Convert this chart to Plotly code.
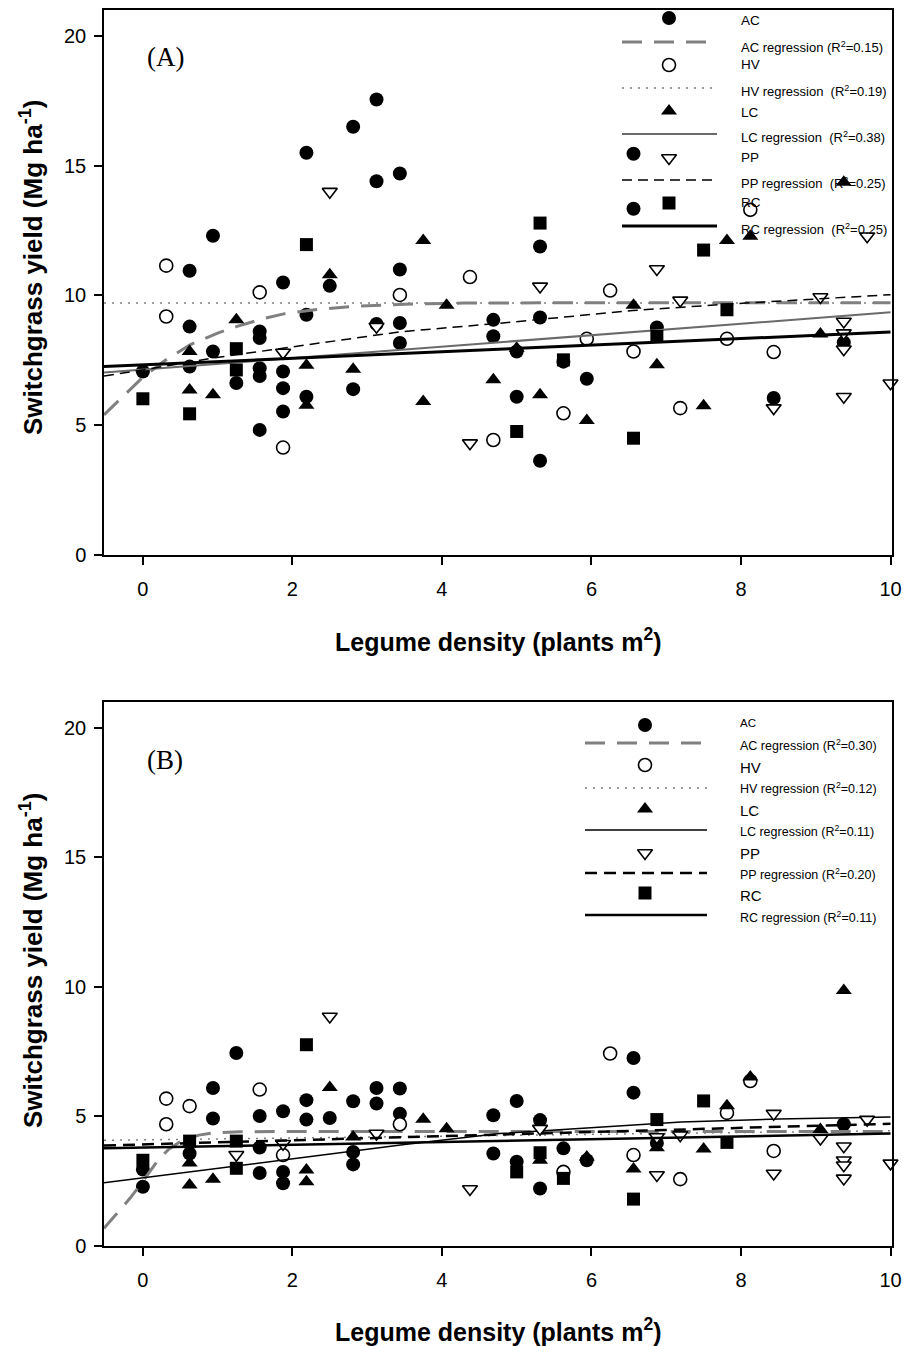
import plotly.graph_objects as go

# ---------------- Panel A data ----------------
A_AC_x = [0, 0.625, 0.625, 0.625, 0.9375, 0.9375, 1.25, 1.5625, 1.5625, 1.5625, 1.5625, 1.5625,
          1.875, 1.875, 1.875, 1.875, 2.1875, 2.1875, 2.1875, 2.5, 2.8125, 2.8125, 3.125, 3.125, 3.125,
          3.4375, 3.4375, 3.4375, 3.4375, 4.6875, 4.6875, 5.0, 5.0, 5.3125, 5.3125, 5.3125, 5.625,
          5.9375, 6.5625, 6.5625, 6.875, 8.4375, 9.375]
A_AC_y = [7.07, 10.95, 8.8, 7.26, 12.3, 7.84, 6.63, 8.61, 8.36, 7.2, 6.9, 4.82,
          10.5, 7.07, 6.43, 5.53, 15.5, 9.26, 6.1, 10.37, 16.5, 6.39, 17.55, 14.4, 8.9,
          14.7, 11.0, 8.94, 8.17, 9.06, 8.43, 7.84, 6.1, 11.89, 9.15, 3.63, 7.45,
          6.79, 15.46, 13.34, 8.77, 6.05, 8.19]

A_HV_x = [0.3125, 0.3125, 1.5625, 1.875, 3.4375, 4.375, 4.6875, 5.625, 5.9375, 6.25, 6.5625,
          7.1875, 7.8125, 8.125, 8.4375]
A_HV_y = [11.15, 9.19, 10.12, 4.14, 10.02, 10.71, 4.43, 5.46, 8.33, 10.19, 7.84,
          5.66, 8.33, 13.3, 7.82]

A_LC_x = [0.625, 0.625, 0.9375, 1.25, 2.1875, 2.1875, 2.5, 2.8125, 3.75, 3.75, 4.0625, 4.6875,
          5.0, 5.3125, 5.9375, 6.5625, 6.875, 7.5, 7.8125, 8.125, 9.0625, 9.375]
A_LC_y = [7.84, 6.36, 6.17, 9.06, 7.31, 5.77, 10.8, 7.16, 12.12, 5.91, 9.62, 6.75,
          7.97, 6.17, 5.18, 9.62, 7.33, 5.75, 12.12, 12.28, 8.52, 14.36]

A_PP_x = [1.875, 2.5, 3.125, 4.375, 5.3125, 6.875, 7.1875, 8.4375, 9.0625, 9.375, 9.375, 9.375,
          9.375, 9.6875, 10.0]
A_PP_y = [7.8, 14.0, 8.8, 4.31, 10.35, 11.02, 9.81, 5.66, 9.94, 9.0, 8.55, 7.93,
          6.1, 12.28, 6.62]

A_RC_x = [0, 0.625, 1.25, 1.25, 2.1875, 5.0, 5.3125, 5.625, 6.5625, 6.875, 7.5, 7.8125]
A_RC_y = [6.02, 5.44, 7.95, 7.13, 11.96, 4.76, 12.79, 7.52, 4.5, 8.42, 11.75, 9.45]

# regression curves
A_ACreg_x = [-0.52, -0.25, 0, 0.3, 0.63, 1.0, 1.25, 1.6, 1.9, 2.3, 2.8, 3.5, 4.3, 6.0, 8.0, 10.0]
A_ACreg_y = [5.4, 6.15, 6.85, 7.5, 8.1, 8.55, 8.8, 9.1, 9.3, 9.45, 9.58, 9.66, 9.71, 9.72, 9.72, 9.72]
A_HVreg_x = [-0.52, 10.0]
A_HVreg_y = [9.71, 9.71]
A_LCreg_x = [-0.52, 10.0]
A_LCreg_y = [7.03, 9.35]
A_PPreg_x = [-0.52, 0, 0.96, 1.54, 2.2, 3.44, 4.77, 6.55, 7.89, 10.0]
A_PPreg_y = [6.9, 7.13, 7.6, 7.84, 8.1, 8.6, 8.93, 9.42, 9.68, 10.03]
A_RCreg_x = [-0.52, 10.0]
A_RCreg_y = [7.26, 8.59]

# ---------------- Panel B data ----------------
B_AC_x = [0, 0, 0.625, 0.9375, 0.9375, 1.25, 1.5625, 1.5625, 1.5625, 1.875, 1.875, 1.875,
          2.1875, 2.1875, 2.5, 2.8125, 2.8125, 2.8125, 3.125, 3.125, 3.4375, 3.4375, 4.6875, 4.6875,
          5.0, 5.0, 5.3125, 5.3125, 5.625, 5.9375, 6.5625, 6.5625, 6.875, 9.375]
B_AC_y = [2.95, 2.29, 3.57, 6.1, 4.92, 7.45, 5.02, 3.8, 2.82, 5.2, 2.86, 2.42,
          5.63, 4.88, 4.94, 5.59, 3.63, 3.15, 6.1, 5.5, 6.08, 5.11, 5.05, 3.57,
          5.6, 3.25, 4.86, 2.22, 3.77, 3.31, 7.26, 5.92, 3.98, 4.7]

B_HV_x = [0.3125, 0.3125, 0.625, 1.5625, 1.875, 3.4375, 5.625, 6.25, 6.5625, 7.1875, 7.8125,
          8.125, 8.4375]
B_HV_y = [5.69, 4.7, 5.4, 6.04, 3.51, 4.7, 2.86, 7.43, 3.51, 2.58, 5.14, 6.37, 3.67]

B_LC_x = [0.625, 0.625, 0.9375, 2.1875, 2.1875, 2.5, 2.8125, 3.75, 4.0625, 5.3125, 5.9375,
          6.5625, 6.875, 7.5, 7.8125, 8.125, 9.0625, 9.375]
B_LC_y = [3.2, 2.35, 2.58, 2.93, 2.48, 6.12, 4.21, 4.89, 4.53, 3.31, 3.44,
          2.97, 3.79, 3.74, 5.41, 6.52, 4.5, 9.86]

B_PP_x = [1.25, 1.875, 2.5, 3.125, 4.375, 5.3125, 6.875, 6.875, 7.1875, 8.4375, 8.4375, 9.0625,
          9.375, 9.375, 9.375, 9.375, 9.6875, 10.0]
B_PP_y = [3.52, 3.95, 8.86, 4.34, 2.2, 4.53, 4.21, 2.74, 4.28, 5.11, 2.8, 4.15,
          3.85, 3.31, 3.12, 2.61, 4.88, 3.19]

B_RC_x = [0, 0.625, 1.25, 1.25, 2.1875, 5.0, 5.3125, 5.625, 6.5625, 6.875, 7.5, 7.8125]
B_RC_y = [3.31, 4.05, 4.05, 3.0, 7.77, 2.86, 3.6, 2.61, 1.81, 4.88, 5.6, 4.0]

B_ACreg_x = [-0.52, -0.35, -0.17, 0, 0.2, 0.35, 0.53, 0.75, 0.95, 1.3, 2.0, 10.0]
B_ACreg_y = [0.68, 1.25, 1.85, 2.5, 3.3, 3.75, 4.08, 4.28, 4.37, 4.41, 4.42, 4.42]
B_HVreg_x = [-0.52, 10.0]
B_HVreg_y = [4.08, 4.45]
B_LCreg_x = [-0.52, 0.5, 1.5, 2.37, 3.5, 4.77, 6.0, 7.2, 8.5, 10.0]
B_LCreg_y = [2.44, 2.82, 3.18, 3.51, 3.92, 4.34, 4.58, 4.79, 4.9, 4.98]
B_PPreg_x = [-0.52, 10.0]
B_PPreg_y = [3.88, 4.72]
B_RCreg_x = [-0.52, 10.0]
B_RCreg_y = [3.77, 4.34]

A_labels = ["AC", "AC regression (R<sup>2</sup>=0.15)", "HV", "HV regression  (R<sup>2</sup>=0.19)",
            "LC", "LC regression  (R<sup>2</sup>=0.38)", "PP", "PP regression  (R<sup>2</sup>=0.25)",
            "RC", "RC regression  (R<sup>2</sup>=0.25)"]
B_labels = ["AC", "AC regression (R<sup>2</sup>=0.30)", "HV", "HV regression (R<sup>2</sup>=0.12)",
            "LC", "LC regression (R<sup>2</sup>=0.11)", "PP", "PP regression (R<sup>2</sup>=0.20)",
            "RC", "RC regression (R<sup>2</sup>=0.11)"]

x_ticks = [0, 2, 4, 6, 8, 10]
y_ticks = [0, 5, 10, 15, 20]

# ---------------- styles ----------------
GRAY = "#808080"
MARK = {
    "AC": dict(symbol="circle", size=14, color="black", line=dict(width=0)),
    "HV": dict(symbol="circle", size=13, color="white", line=dict(width=1.6, color="black")),
    "LC": dict(symbol="triangle-up", size=14, color="black", line=dict(width=0)),
    "PP": dict(symbol="triangle-down", size=13, color="white", line=dict(width=1.6, color="black")),
    "RC": dict(symbol="square", size=13, color="black", line=dict(width=0)),
}
LINE_A = {
    "AC": dict(color=GRAY, width=3, dash="20px,12px"),
    "HV": dict(color=GRAY, width=1.5, dash="2px,6px"),
    "LC": dict(color="#6a6a6a", width=2, dash="solid"),
    "PP": dict(color="black", width=1.5, dash="10px,6px"),
    "RC": dict(color="black", width=3, dash="solid"),
}
LINE_B = {
    "AC": dict(color=GRAY, width=3, dash="20px,12px"),
    "HV": dict(color=GRAY, width=1.5, dash="2px,6px"),
    "LC": dict(color="black", width=1.5, dash="solid"),
    "PP": dict(color="black", width=2.5, dash="12px,7px"),
    "RC": dict(color="black", width=2.5, dash="solid"),
}

fig = go.Figure()

panels = {
    "A": dict(xa="x", ya="y", lines=LINE_A, data={
        "AC": (A_AC_x, A_AC_y, A_ACreg_x, A_ACreg_y),
        "HV": (A_HV_x, A_HV_y, A_HVreg_x, A_HVreg_y),
        "LC": (A_LC_x, A_LC_y, A_LCreg_x, A_LCreg_y),
        "PP": (A_PP_x, A_PP_y, A_PPreg_x, A_PPreg_y),
        "RC": (A_RC_x, A_RC_y, A_RCreg_x, A_RCreg_y)}),
    "B": dict(xa="x2", ya="y2", lines=LINE_B, data={
        "AC": (B_AC_x, B_AC_y, B_ACreg_x, B_ACreg_y),
        "HV": (B_HV_x, B_HV_y, B_HVreg_x, B_HVreg_y),
        "LC": (B_LC_x, B_LC_y, B_LCreg_x, B_LCreg_y),
        "PP": (B_PP_x, B_PP_y, B_PPreg_x, B_PPreg_y),
        "RC": (B_RC_x, B_RC_y, B_RCreg_x, B_RCreg_y)}),
}

for pname, p in panels.items():
    for s in ["AC", "HV", "LC", "PP", "RC"]:
        mx, my, rx, ry = p["data"][s]
        fig.add_trace(go.Scatter(x=mx, y=my, mode="markers", marker=MARK[s], cliponaxis=False,
                                 xaxis=p["xa"], yaxis=p["ya"], showlegend=False, hoverinfo="skip"))
        fig.add_trace(go.Scatter(x=rx, y=ry, mode="lines", line=p["lines"][s],
                                 xaxis=p["xa"], yaxis=p["ya"], showlegend=False, hoverinfo="skip"))

# ---------------- custom legends (overlay axes in pixel units) ----------------
legA = dict(xa="x3", ya="y3", mx=669, lx0=622, lx1=717, tx=739,
            mrows=[18, 65, 111, 158, 203], lrows=[42, 88, 134, 180, 226],
            trows=[20, 47, 64, 91, 112, 137, 157, 183, 202, 229],
            tsize=[13.5, 13, 13.5, 13, 13.5, 13, 13.5, 13, 13.5, 13], labels=A_labels, lines=LINE_A)
legB = dict(xa="x4", ya="y4", mx=645, lx0=585, lx1=707, tx=738,
            mrows=[725, 765, 809, 853, 893], lrows=[743, 788, 830, 873, 915],
            trows=[723, 745, 767, 788, 810, 831, 853, 874, 895, 917],
            tsize=[11.5, 12.5, 15, 12.5, 15, 12.5, 15, 12.5, 15, 12.5], labels=B_labels, lines=LINE_B)

for lg in [legA, legB]:
    for i, s in enumerate(["AC", "HV", "LC", "PP", "RC"]):
        fig.add_trace(go.Scatter(x=[lg["mx"]], y=[lg["mrows"][i]], mode="markers", marker=MARK[s],
                                 xaxis=lg["xa"], yaxis=lg["ya"], showlegend=False, hoverinfo="skip"))
        fig.add_trace(go.Scatter(x=[lg["lx0"], lg["lx1"]], y=[lg["lrows"][i]] * 2, mode="lines",
                                 line=lg["lines"][s], xaxis=lg["xa"], yaxis=lg["ya"],
                                 showlegend=False, hoverinfo="skip"))
    for j, t in enumerate(lg["labels"]):
        fig.add_annotation(x=lg["tx"], y=lg["trows"][j], xref=lg["xa"], yref=lg["ya"], text=t,
                           showarrow=False, xanchor="left", yanchor="middle",
                           font=dict(family="Liberation Sans, Arial", size=lg["tsize"][j], color="black"))

W, H = 907, 1346
ML, MR, MT, MB = 104, 15, 10, 100
PH = H - MT - MB
domA = [(1246 - 555) / PH, 1.0]
domB = [0.0, (1246 - 702) / PH]

axis_common = dict(showgrid=False, zeroline=False, showline=True, linecolor="black", linewidth=1.5,
                   mirror=True, ticks="outside", ticklen=8, tickwidth=1.5, tickcolor="black",
                   automargin=False,
                   tickfont=dict(family="Liberation Sans, Arial", size=20, color="black"))
hidden = dict(visible=False, showticklabels=False, automargin=False, fixedrange=True)

fig.update_layout(
    width=W, height=H, autosize=False, margin=dict(l=ML, r=MR, t=MT, b=MB, autoexpand=False),
    paper_bgcolor="white", plot_bgcolor="white", showlegend=False,
    xaxis=dict(domain=[0, 1], range=[-0.52, 10.02], tickvals=x_ticks, anchor="y",
               ticklabelstandoff=7, **axis_common),
    yaxis=dict(domain=domA, range=[0, 21], tickvals=y_ticks, anchor="x",
               ticklabelstandoff=4, **axis_common),
    xaxis2=dict(domain=[0, 1], range=[-0.52, 10.02], tickvals=x_ticks, anchor="y2",
                ticklabelstandoff=7, **axis_common),
    yaxis2=dict(domain=domB, range=[0, 21], tickvals=y_ticks, anchor="x2",
                ticklabelstandoff=4, **axis_common),
    xaxis3=dict(domain=[0, 1], range=[104, 892], anchor="y3", overlaying="x", **hidden),
    yaxis3=dict(domain=domA, range=[555, 10], anchor="x3", overlaying="y", **hidden),
    xaxis4=dict(domain=[0, 1], range=[104, 892], anchor="y4", overlaying="x2", **hidden),
    yaxis4=dict(domain=domB, range=[1246, 702], anchor="x4", overlaying="y2", **hidden),
)

title_font_y = dict(family="Liberation Sans, Arial", size=26, color="black")
title_font_x = dict(family="Liberation Sans, Arial", size=25, color="black")
ytitle = "<b>Switchgrass yield (Mg ha<sup>-1</sup>)</b>"
xtitle = "<b>Legume density (plants m<sup>2</sup>)</b>"
for yc in [(1246 - 268) / PH, (1246 - 961) / PH]:
    fig.add_annotation(x=(31 - ML) / (W - ML - MR), y=yc, xref="paper", yref="paper", text=ytitle,
                       textangle=-90, showarrow=False, xanchor="center", yanchor="middle", font=title_font_y)
for yc in [(1246 - 640) / PH, (1246 - 1330) / PH]:
    fig.add_annotation(x=0.5, y=yc, xref="paper", yref="paper", text=xtitle, showarrow=False,
                       xanchor="center", yanchor="middle", font=title_font_x)

for lab, yp in [("(A)", 57), ("(B)", 760)]:
    fig.add_annotation(x=(165 - ML) / (W - ML - MR), y=(1246 - yp) / PH, xref="paper", yref="paper",
                       text=lab, showarrow=False, xanchor="center", yanchor="middle",
                       font=dict(family="Liberation Serif, Times New Roman", size=27, color="black"))

fig.write_html("out.html", config={"displayModeBar": False, "responsive": False},
               post_script="document.body.style.margin='0';document.body.style.overflow='hidden';")
